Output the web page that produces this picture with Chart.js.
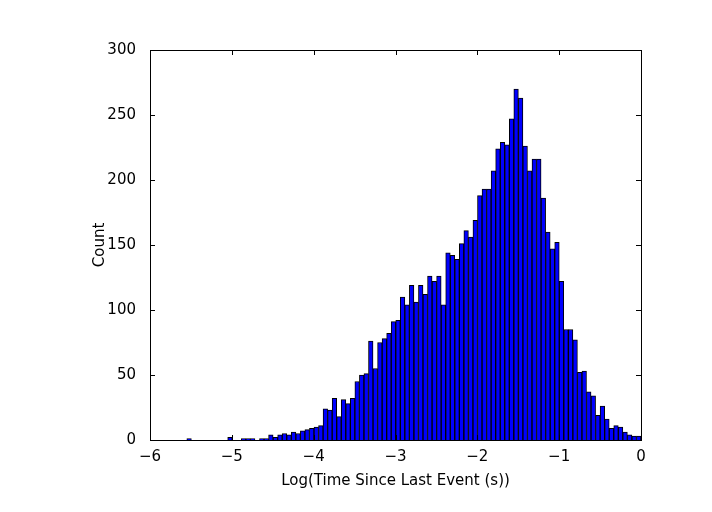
<!DOCTYPE html>
<html><head><meta charset="utf-8">
<script src="https://cdn.jsdelivr.net/npm/chart.js@4"></script>
<style>html,body{margin:0;padding:0;background:#fff}#c{display:block}</style>
</head><body>
<canvas id="c" width="712" height="512"></canvas>
<script>
const binStart = -5.55;
const binWidth = 0.0555;
const counts = [1,0,0,0,0,0,0,0,0,2,0,0,1,1,1,0,1,1,
  4,2,4,5,4,6,5,7,8,9,10,11,
  24,23,32,18,31,28,32,45,50,51,
  76,55,75,78,82,91,92,110,104,119,
  106,119,112,126,122,126,104,144,142,139,
  151,161,156,169,188,193,193,207,224,229,
  227,247,270,263,226,207,216,216,186,160,
  147,152,122,85,85,77,52,53,37,34,
  19,26,16,9,11,10,6,4,3,3];
const xTicks = [-6,-5,-4,-3,-2,-1,0];
const yTicks = [0,50,100,150,200,250,300];
const pts = counts.map((c,i)=>({x: binStart + binWidth*(i+0.5), y:c}));
const tickPlugin = {id:'tk', afterDraw(ch){
  const g=ch.ctx, a=ch.chartArea, xs=ch.scales.x, ys=ch.scales.y;
  g.save(); g.strokeStyle='#000'; g.lineWidth=1;
  xTicks.forEach(v=>{const p=Math.round(xs.getPixelForValue(v))+0.5;
    g.beginPath(); g.moveTo(p,a.bottom); g.lineTo(p,a.bottom-5); g.moveTo(p,a.top); g.lineTo(p,a.top+5); g.stroke();});
  yTicks.forEach(v=>{const p=Math.round(ys.getPixelForValue(v))+0.5;
    g.beginPath(); g.moveTo(a.left,p); g.lineTo(a.left+5,p); g.moveTo(a.right,p); g.lineTo(a.right-5,p); g.stroke();});
  g.strokeRect(a.left+0.5,a.top+0.5,a.right-a.left,a.bottom-a.top);
  g.restore();
}};
const font={family:'DejaVu Sans',size:15};
new Chart(document.getElementById('c'),{
  type:'bar',
  data:{datasets:[{data:pts,backgroundColor:'#0000ff',borderColor:'#000',borderWidth:1,barPercentage:1,categoryPercentage:1,grouped:false}]},
  options:{responsive:false,animation:false,devicePixelRatio:1,
    layout:{padding:{top:50,right:71,left:87,bottom:18}},
    plugins:{legend:{display:false},tooltip:{enabled:false}},
    scales:{
      x:{type:'linear',min:-6,max:0,offset:false,afterFit(s){s.height=54;},
        afterBuildTicks(s){s.ticks=xTicks.map(v=>({value:v}));},
        grid:{display:false,offset:false},border:{display:false},
        ticks:{color:'#000',font,padding:0,autoSkip:false,maxRotation:0,callback:v=>String(v).replace('-','\u2212')},
        title:{display:true,text:'Log(Time Since Last Event (s))',color:'#000',font,padding:{top:4}}},
      y:{min:0,max:300,afterFit(s){s.width=63;},
        afterBuildTicks(s){s.ticks=yTicks.map(v=>({value:v}));},
        grid:{display:false},border:{display:false},
        ticks:{color:'#000',font,padding:6,autoSkip:false},
        title:{display:true,text:'Count',color:'#000',font,padding:{bottom:8}}}
    }},
  plugins:[tickPlugin]
});
</script></body></html>
